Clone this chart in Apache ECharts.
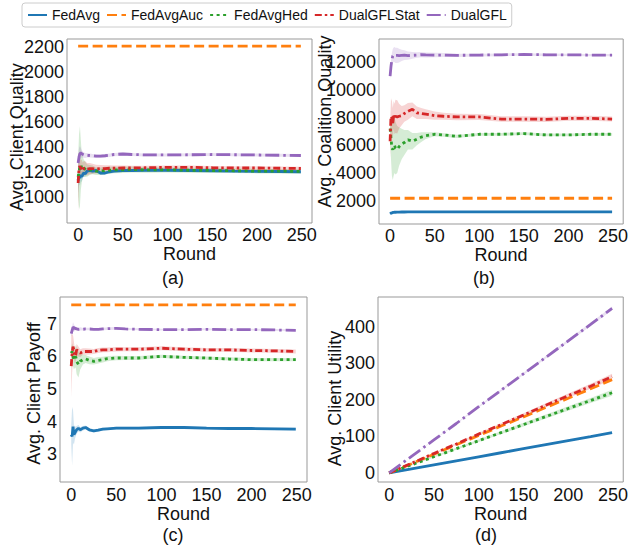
<!DOCTYPE html>
<html>
<head>
<meta charset="utf-8">
<script src="https://cdn.jsdelivr.net/npm/echarts@6/dist/echarts.min.js"></script>
<style>
html,body{margin:0;padding:0;background:#fff}
#main{width:631px;height:546px}
</style>
</head>
<body>
<div id="main"></div>
<script>
// sampled rounds (dense at the start, where the curves move)
var rounds = [0,1,2,3,4,5,6,8,10,13,16,20,25,30,35,40,50,60,75,100,125,150,175,200,225,249];
var roundsD = [0,25,50,75,100,125,150,175,200,225,249];
var xTicks = [0,50,100,150,200,250];

// (a) Avg. Client Quality
var aFedAvg      = [1130,1180,1150,1170,1160,1175,1190,1185,1205,1210,1205,1210,1190,1190,1200,1205,1210,1210,1212,1212,1210,1208,1205,1203,1202,1200];
var aFedAvgAuc   = [2205,2205,2205,2205,2205,2205,2205,2205,2205,2205,2205,2205,2205,2205,2205,2205,2205,2205,2205,2205,2205,2205,2205,2205,2205,2205];
var aFedAvgHed   = [1160,1200,1245,1255,1230,1245,1230,1220,1210,1215,1215,1205,1205,1210,1212,1215,1215,1218,1215,1215,1212,1210,1208,1205,1205,1203];
var aDualGFLStat = [1110,1230,1245,1220,1235,1215,1225,1230,1220,1225,1225,1222,1225,1225,1228,1228,1230,1230,1232,1235,1235,1232,1230,1230,1228,1226];
var aDualGFL     = [1270,1320,1345,1350,1345,1340,1335,1330,1332,1330,1328,1325,1325,1328,1332,1338,1342,1338,1335,1335,1336,1338,1336,1334,1332,1330];
var aSpreadFedAvg      = [100,80,60,45,40,35,30,25,22,20,18,16,15,14,13,12,11,10,10,10,10,10,10,10,10,10];
var aSpreadFedAvgHed   = [150,300,320,200,120,90,70,60,50,40,35,30,30,30,28,26,25,24,22,20,20,20,18,18,18,18];
var aSpreadDualGFLStat = [230,120,80,70,65,60,60,55,50,45,40,35,30,28,25,22,20,18,16,15,15,15,15,15,15,15];
var aSpreadDualGFL     = [60,70,60,40,30,25,22,20,18,16,15,15,14,14,14,13,13,12,12,12,12,12,12,12,12,12];
var aTicks = [1000,1200,1400,1600,1800,2000,2200];

// (b) Avg. Coalition Quality
var bFedAvg      = [1050,1100,1120,1150,1160,1170,1170,1175,1180,1185,1185,1190,1190,1195,1195,1195,1200,1200,1200,1200,1200,1200,1200,1200,1200,1200];
var bFedAvgAuc   = [2180,2180,2180,2180,2180,2180,2180,2180,2180,2180,2180,2180,2180,2180,2180,2180,2180,2180,2180,2180,2180,2180,2180,2180,2180,2180];
var bFedAvgHed   = [7200,6500,5800,5700,5900,6000,5800,5700,5900,6100,6200,6400,6300,6450,6600,6700,6800,6750,6650,6800,6800,6850,6750,6750,6800,6800];
var bDualGFLStat = [6300,8100,8000,7600,8200,7900,8100,8050,8100,8150,8300,8450,8600,8350,8300,8250,8150,8100,8050,8050,7900,7900,7880,7950,7950,7900];
var bDualGFL     = [11000,11700,12200,12450,12550,12550,12500,12500,12480,12500,12520,12480,12500,12520,12550,12530,12520,12520,12500,12520,12540,12560,12540,12540,12520,12520];
var bSpreadFedAvg      = [60,50,40,35,30,30,25,25,20,20,20,18,18,16,15,15,15,15,15,15,15,15,15,15,15,15];
var bSpreadFedAvgHed   = [800,1500,2000,2200,2100,2000,1900,1700,1400,1100,900,700,600,450,350,250,150,130,120,100,100,100,100,100,100,100];
var bSpreadDualGFLStat = [1200,1300,1200,1100,1000,1100,1200,1200,900,700,600,600,500,450,400,350,300,250,230,220,200,200,190,180,180,180];
var bSpreadDualGFL     = [200,400,450,500,520,550,550,550,500,400,350,300,250,200,190,180,160,140,120,100,100,90,90,80,80,80];
var bTicks = [2000,4000,6000,8000,10000,12000];

// (c) Avg. Client Payoff
var cFedAvg      = [3.6,3.55,3.85,3.6,3.65,3.7,3.75,3.8,3.75,3.8,3.82,3.75,3.72,3.74,3.77,3.78,3.8,3.8,3.8,3.82,3.82,3.8,3.79,3.79,3.78,3.77];
var cFedAvgAuc   = [7.58,7.58,7.58,7.58,7.58,7.58,7.58,7.58,7.58,7.58,7.58,7.58,7.58,7.58,7.58,7.58,7.58,7.58,7.58,7.58,7.58,7.58,7.58,7.58,7.58,7.58];
var cFedAvgHed   = [6.1,6.15,6.0,5.9,5.95,6.0,5.85,5.75,5.85,5.9,5.92,5.88,5.85,5.88,5.9,5.93,5.95,5.95,5.95,6.0,5.97,5.95,5.92,5.9,5.9,5.9];
var cDualGFLStat = [5.7,6.1,6.3,6.2,6.0,6.05,6.2,6.15,6.1,6.15,6.15,6.15,6.15,6.18,6.2,6.2,6.22,6.22,6.22,6.25,6.22,6.2,6.2,6.18,6.17,6.15];
var cDualGFL     = [6.7,6.8,6.9,6.88,6.85,6.86,6.84,6.83,6.84,6.83,6.84,6.84,6.83,6.83,6.84,6.85,6.86,6.84,6.83,6.82,6.82,6.83,6.82,6.82,6.81,6.8];
var cSpreadFedAvg      = [0.3,0.9,0.5,0.3,0.2,0.15,0.12,0.1,0.08,0.07,0.06,0.05,0.05,0.05,0.04,0.04,0.04,0.04,0.04,0.04,0.04,0.04,0.04,0.04,0.04,0.04];
var cSpreadFedAvgHed   = [0.15,0.25,0.3,0.3,0.3,0.35,0.4,0.4,0.25,0.15,0.12,0.12,0.1,0.1,0.09,0.08,0.07,0.06,0.06,0.05,0.05,0.05,0.05,0.05,0.05,0.05];
var cSpreadDualGFLStat = [0.95,0.6,0.35,0.25,0.22,0.2,0.18,0.15,0.12,0.1,0.1,0.09,0.08,0.08,0.07,0.07,0.07,0.06,0.06,0.06,0.06,0.06,0.06,0.06,0.06,0.06];
var cSpreadDualGFL     = [0.08,0.12,0.15,0.1,0.08,0.06,0.05,0.05,0.05,0.04,0.04,0.04,0.04,0.04,0.04,0.04,0.04,0.03,0.03,0.03,0.03,0.03,0.03,0.03,0.03,0.03];
var cTicks = [3,4,5,6,7];

// (d) Avg. Client Utility
var dFedAvg      = [0,11,22,33,44,55,66,77,88,99,110];
var dFedAvgAuc   = [0,25,51,77,102,128,153,179,204,230,255];
var dFedAvgHed   = [0,22,44,66,88,110,132,154,176,198,219];
var dDualGFLStat = [0,26,53,79,106,132,158,185,211,237,263];
var dDualGFL     = [0,45,90,135,181,226,271,316,361,406,450];
var dSpreadFedAvgHed   = [0,1,2,3,3.5,4,5,5.5,6,7,8];
var dSpreadDualGFLStat = [0,1,2,3,3.5,4,5,5.5,6,7,8];
var dSpreadDualGFL     = [0,0.5,1,1.5,2,2.5,3,3.5,4,4.5,5];
var dTicks = [0,100,200,300,400];

(function(){
	var myChart = echarts.init(document.getElementById('main'), null, {renderer: 'svg'});
	var font = '"Liberation Sans", Arial, Helvetica, sans-serif';
	var names = ['FedAvg','FedAvgAuc','FedAvgHed','DualGFLStat','DualGFL'];
	var colors = ['#1f77b4','#ff7f0e','#2ca02c','#d62728','#9467bd'];
	var dashes = ['solid',[10,4.5],[3,3.5],[7,3,2.5,3],[14,4,2.5,4]];

	var panels = [
		{xs: rounds, vals: [aFedAvg,aFedAvgAuc,aFedAvgHed,aDualGFLStat,aDualGFL],
		 spreads: [aSpreadFedAvg,null,aSpreadFedAvgHed,aSpreadDualGFLStat,aSpreadDualGFL],
		 grid: {left:67, top:39, width:245, height:184}, yMin:790, yMax:2262, yTicks:aTicks,
		 yName:'Avg. Client Quality', nameGap:41, namePad:[0,12,0,0], xMargin:4, xNameGap:23},
		{xs: rounds, vals: [bFedAvg,bFedAvgAuc,bFedAvgHed,bDualGFLStat,bDualGFL],
		 spreads: [bSpreadFedAvg,null,bSpreadFedAvgHed,bSpreadDualGFLStat,bSpreadDualGFL],
		 grid: {left:379, top:39, width:248, height:185}, yMin:320, yMax:13680, yTicks:bTicks,
		 yName:'Avg. Coalition Quality', nameGap:45, namePad:[0,0,0,20], xMargin:4, xNameGap:23},
		{xs: rounds, vals: [cFedAvg,cFedAvgAuc,cFedAvgHed,cDualGFLStat,cDualGFL],
		 spreads: [cSpreadFedAvg,null,cSpreadFedAvgHed,cSpreadDualGFLStat,cSpreadDualGFL],
		 grid: {left:60, top:297, width:247, height:185}, yMin:2.15, yMax:7.82, yTicks:cTicks,
		 yName:'Avg. Client Payoff', nameGap:17, namePad:[0,8,0,0], xMargin:5, xNameGap:24},
		{xs: roundsD, vals: [dFedAvg,dFedAvgAuc,dFedAvgHed,dDualGFLStat,dDualGFL],
		 spreads: [null,null,dSpreadFedAvgHed,dSpreadDualGFLStat,dSpreadDualGFL],
		 grid: {left:378, top:297, width:247, height:185}, yMin:-25, yMax:481, yTicks:dTicks,
		 yName:'Avg. Client Utility', nameGap:34, namePad:[0,18,0,0], xMargin:5, xNameGap:24}
	];

	var grids = [], xAxes = [], yAxes = [], series = [];
	var labelStyle = {fontSize:18, color:'#111', fontFamily:font};
	var plain = function(v){ return String(v); };

	panels.forEach(function(p, gi){
		grids.push({left:p.grid.left, top:p.grid.top, width:p.grid.width, height:p.grid.height,
			show:true, borderColor:'#999', borderWidth:1, backgroundColor:'transparent'});
		xAxes.push({type:'value', gridIndex:gi, min:-12.45, max:261.45,
			axisLine:{show:false}, axisTick:{show:false}, splitLine:{show:false},
			axisLabel:Object.assign({margin:p.xMargin, customValues:xTicks, formatter:plain, lineHeight:16}, labelStyle),
			name:'Round', nameLocation:'middle', nameGap:p.xNameGap, nameMoveOverlap:false,
			nameTextStyle:Object.assign({lineHeight:16}, labelStyle)});
		yAxes.push({type:'value', gridIndex:gi, min:p.yMin, max:p.yMax,
			axisLine:{show:false}, axisTick:{show:false}, splitLine:{show:false},
			axisLabel:Object.assign({margin:3, customValues:p.yTicks, formatter:plain}, labelStyle),
			name:p.yName, nameLocation:'middle', nameRotate:90, nameGap:p.nameGap, nameMoveOverlap:false,
			nameTextStyle:Object.assign({padding:p.namePad}, labelStyle)});

		names.forEach(function(n, si){
			var ys = p.vals[si];
			series.push({
				name:n, type:'line', xAxisIndex:gi, yAxisIndex:gi,
				symbol:'none', showSymbol:false, animation:false, z:3 + si,
				data:p.xs.map(function(x, i){ return [x, ys[i]]; }),
				itemStyle:{color:colors[si]},
				lineStyle:{color:colors[si], width:2.8, type:dashes[si], cap:'butt'}
			});
		});
		names.forEach(function(n, si){
			var sp = p.spreads[si];
			if (!sp) return;
			var ys = p.vals[si], xs = p.xs;
			series.push({
				type:'custom', xAxisIndex:gi, yAxisIndex:gi, silent:true, animation:false, z:2,
				data:[[xs[0], ys[0]]],
				renderItem:function(params, api){
					var pts = [];
					for (var i = 0; i < xs.length; i++) pts.push(api.coord([xs[i], ys[i] + sp[i]]));
					for (var j = xs.length - 1; j >= 0; j--) pts.push(api.coord([xs[j], ys[j] - sp[j]]));
					return {type:'polygon', shape:{points:pts}, style:{fill:colors[si], opacity:0.2}};
				}
			});
		});
	});

	var captions = [['(a)',173,278],['(b)',484,278],['(c)',173,535],['(d)',486,535]];

	var option = {
		backgroundColor:'#fff',
		animation:false,
		legend:{
			data:names, left:22, top:3, padding:[5,5], itemGap:6, itemWidth:19, itemHeight:12,
			borderColor:'#ccc', borderWidth:1, borderRadius:3,
			itemStyle:{opacity:0},
			textStyle:{fontSize:14, color:'#111', fontFamily:font}
		},
		grid:grids, xAxis:xAxes, yAxis:yAxes, series:series,
		graphic:captions.map(function(c){
			return {type:'text', x:c[1], y:c[2],
				style:{text:c[0], textAlign:'center', textVerticalAlign:'middle', fontSize:18, fill:'#111', fontFamily:font}};
		})
	};
	myChart.setOption(option);
})();
</script>
</body>
</html>
